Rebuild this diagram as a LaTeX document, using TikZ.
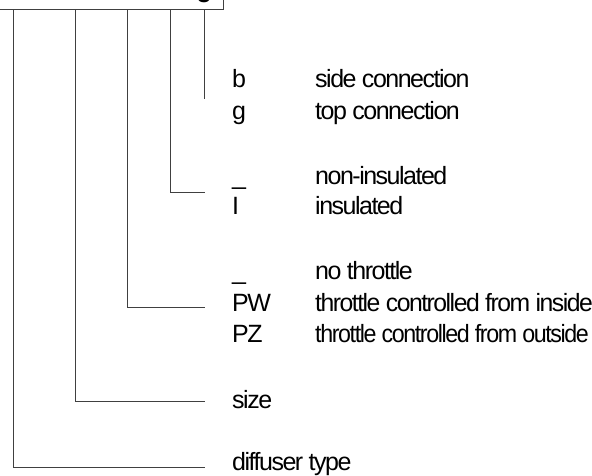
\documentclass[tikz,border=0pt]{standalone}
\usepackage{graphicx}
\usepackage{fontspec}
\setmainfont{Liberation Sans}[LetterSpace=-6]
\newcommand\lbl{\fontsize{25bp}{30bp}\selectfont}
\tikzset{
  conn/.style={draw=black!75, line width=0.9bp},
  lab/.style={anchor=base west, inner sep=0pt, font=\lbl},
}
\begin{document}
\begin{tikzpicture}[x=1bp, y=-1bp]
\useasboundingbox (0,0) rectangle (592,476);
% type-code box (mostly above the visible area)
\node[conn, draw, minimum width=260bp, minimum height=60bp, anchor=south east, inner sep=0pt] (box) at (224,10) {};
\node[anchor=base east, inner sep=0pt, font=\lbl\bfseries] (boxg) at (212,-2) {g};
% labels
\node[lab] (cb) at (232,88) {b};
\node[lab] (db) at (315,88) {side connection};
\node[lab] (cg) at (232,120) {g};
\node[lab] (dg) at (315,120) {top connection};
\node[lab] (cu1) at (232,185) {\_};
\node[lab] (dni) at (315,185) {non-insulated};
\node[lab] (cI) at (232,215) {I};
\node[lab] (dI) at (315,215) {insulated};
\node[lab] (cu2) at (232,280) {\_};
\node[lab] (dnt) at (315,280) {no throttle};
\node[lab] (cPW) at (232,311) {PW};
\node[lab] (dPW) at (315,311) {\scalebox{0.99}[1]{throttle controlled from inside}};
\node[lab] (cPZ) at (232,342) {PZ};
\node[lab] (dPZ) at (315,342) {\scalebox{0.93}[1]{throttle controlled from outside}};
\node[lab] (dsize) at (232,408) {size};
\node[lab] (ddiff) at (232,470) {diffuser type};
% connector points
\coordinate (t1) at (13,10);  \coordinate (k1) at (13,467);  \coordinate (e1) at (205,467);
\coordinate (t2) at (75,10);  \coordinate (k2) at (75,401);  \coordinate (e2) at (205,401);
\coordinate (t3) at (127,10); \coordinate (k3) at (127,307); \coordinate (e3) at (205,307);
\coordinate (t4) at (170,10); \coordinate (k4) at (170,192); \coordinate (e4) at (205,192);
\coordinate (t5) at (204,10); \coordinate (e5) at (204,99);
% connectors
\draw[conn] (t1) -- (k1) -- (e1);
\draw[conn] (t2) -- (k2) -- (e2);
\draw[conn] (t3) -- (k3) -- (e3);
\draw[conn] (t4) -- (k4) -- (e4);
\draw[conn] (t5) -- (e5);
\end{tikzpicture}
\end{document}
